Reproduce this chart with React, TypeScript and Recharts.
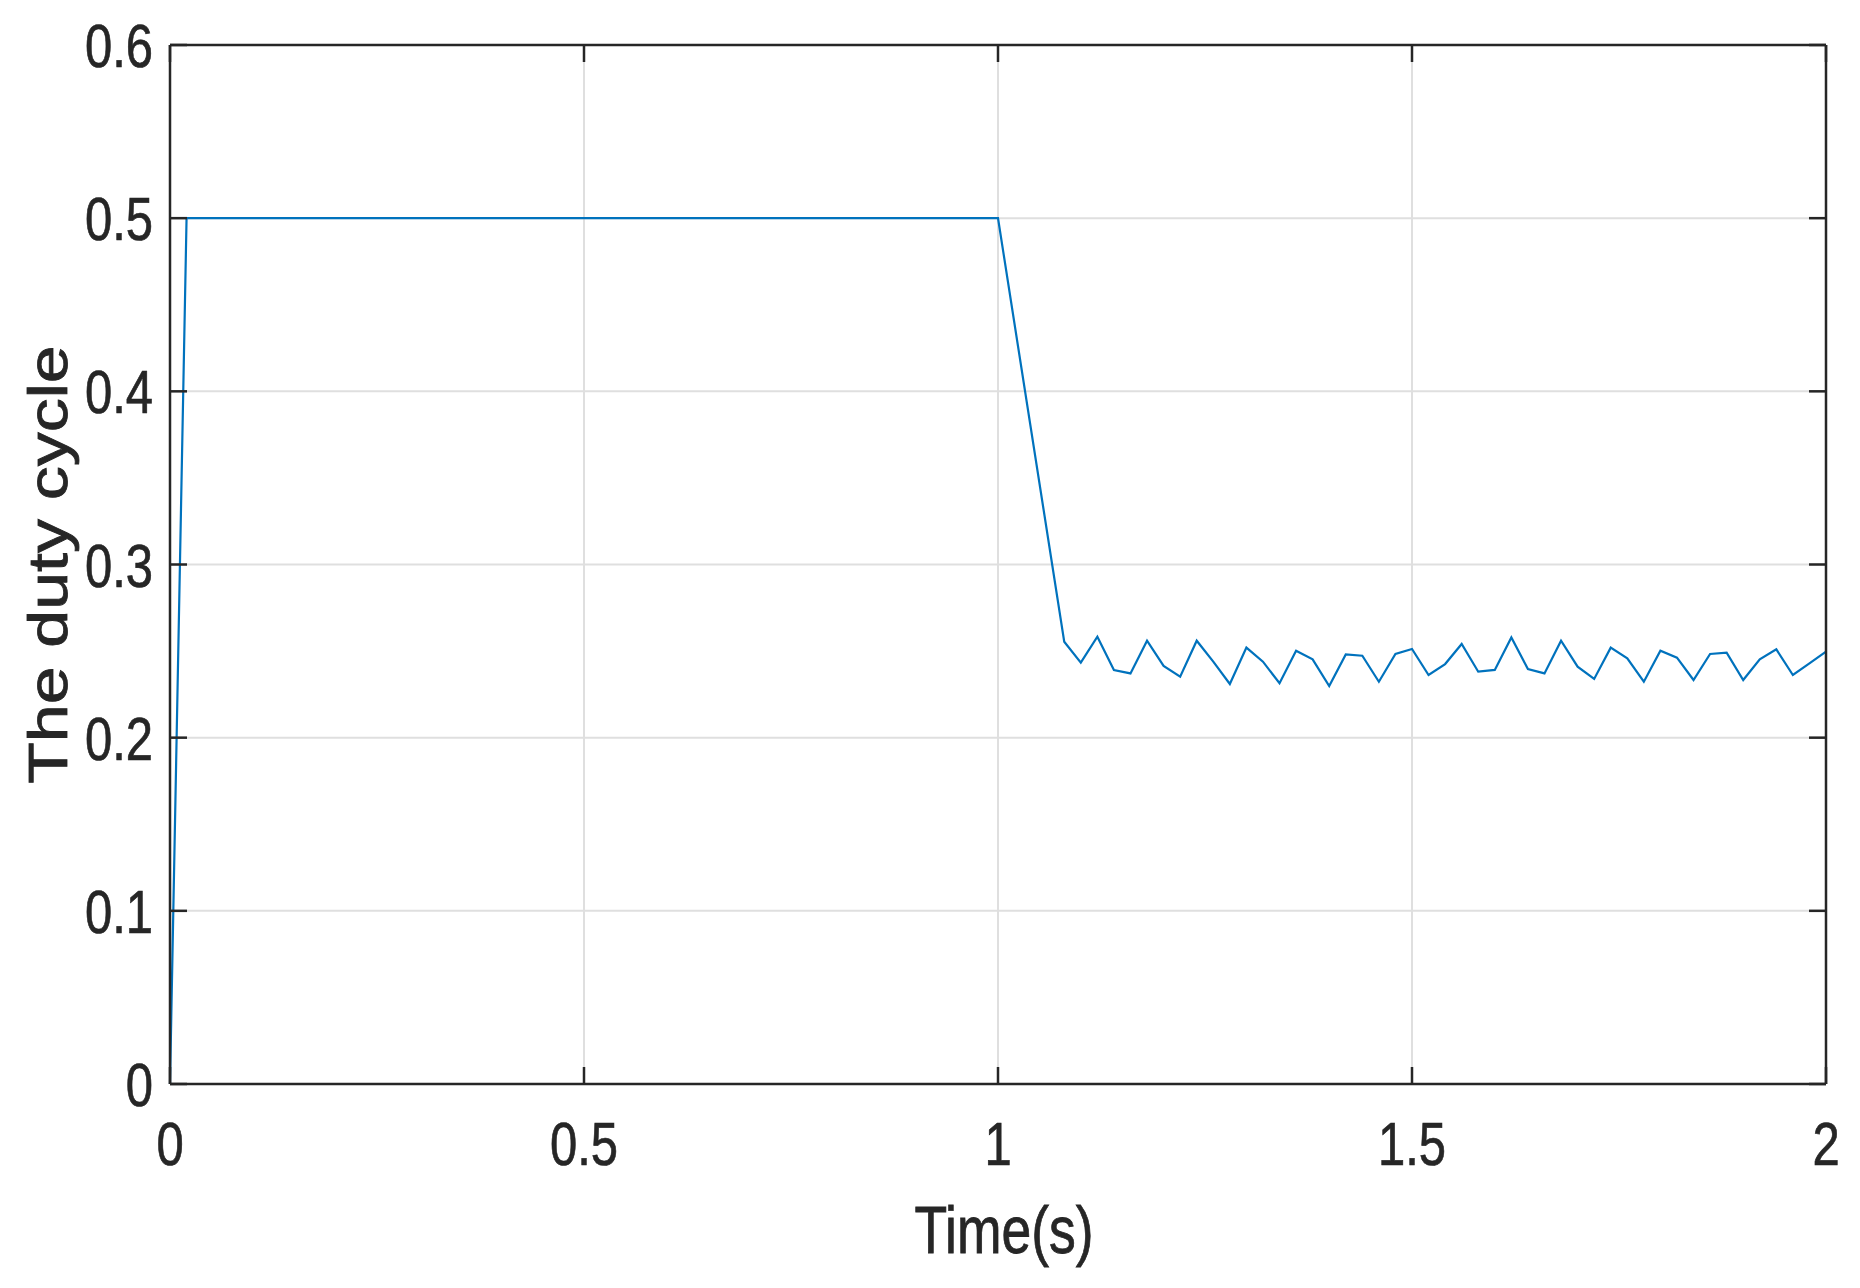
import { LineChart, Line, XAxis, YAxis, CartesianGrid } from 'recharts';

// sample times (s) where the trace bends; straight segments in between
const time = [
  0, 0.02, 1.0, 1.08, 1.1, 1.12, 1.14, 1.16, 1.18, 1.2, 1.22, 1.24, 1.26, 1.28,
  1.3, 1.32, 1.34, 1.36, 1.38, 1.4, 1.42, 1.44, 1.46, 1.48, 1.5, 1.52, 1.54,
  1.56, 1.58, 1.6, 1.62, 1.64, 1.66, 1.68, 1.7, 1.72, 1.74, 1.76, 1.78, 1.8,
  1.82, 1.84, 1.86, 1.88, 1.9, 1.92, 1.94, 1.96, 1.98, 2.0,
];

// duty cycle
const duty = [
  0, 0.5, 0.5, 0.2554, 0.2433, 0.2583, 0.2391, 0.2371, 0.256, 0.2414, 0.2352,
  0.256, 0.2439, 0.231, 0.252, 0.2439, 0.2314, 0.2502, 0.2452, 0.2298, 0.2481,
  0.2473, 0.2323, 0.2483, 0.2512, 0.2362, 0.2425, 0.2541, 0.2381, 0.2391,
  0.2579, 0.2396, 0.2371, 0.256, 0.241, 0.2339, 0.252, 0.2458, 0.2323, 0.2502,
  0.2462, 0.2333, 0.2483, 0.2491, 0.2333, 0.2452, 0.251, 0.2362, 0.2429, 0.2497,
];

const xTicks = [0, 0.5, 1, 1.5, 2];
const xTickLabels = ['0', '0.5', '1', '1.5', '2'];
const yTicks = [0, 0.1, 0.2, 0.3, 0.4, 0.5, 0.6];
const yTickLabels = ['0', '0.1', '0.2', '0.3', '0.4', '0.5', '0.6'];

const data = time.map((t, i) => ({ t, d: duty[i] }));

const INK = '#262626';
const FONT = '"Liberation Sans", Arial, Helvetica, sans-serif';
const SQUEEZE = 0.79; // the original text is horizontally condensed
const TICK_LEN = 17;
const axisStyle = { stroke: INK, strokeWidth: 2.5 };
const tickStyle = { stroke: INK, strokeWidth: 2.5 };

const xLabel = (v: number) => xTickLabels[xTicks.indexOf(v)] ?? String(v);
const yLabel = (v: number) => yTickLabels[yTicks.indexOf(v)] ?? String(v);

// with tickSize = -TICK_LEN and tickMargin = TICK_LEN the given x/y sit on the axis line
const BottomTick = ({ x, y, payload }: any) => (
  <text
    transform={`translate(${x},${y + 81}) scale(${SQUEEZE},1)`}
    textAnchor="middle"
    fontSize={62}
    fontFamily={FONT}
    fill={INK}
    stroke={INK}
    strokeWidth={0.7}
  >
    {xLabel(payload.value)}
  </text>
);

const LeftTick = ({ x, y, payload }: any) => (
  <text
    transform={`translate(${x - 17},${y + 22}) scale(${SQUEEZE},1)`}
    textAnchor="end"
    fontSize={62}
    fontFamily={FONT}
    fill={INK}
    stroke={INK}
    strokeWidth={0.7}
  >
    {yLabel(payload.value)}
  </text>
);

const NoText = () => <g />;

const TimeLabel = ({ viewBox }: any) => (
  <text
    transform={`translate(${viewBox.x + viewBox.width / 2 + 6},${viewBox.y + 169}) scale(${SQUEEZE + 0.02},1)`}
    textAnchor="middle"
    fontSize={66}
    fontFamily={FONT}
    fill={INK}
    stroke={INK}
    strokeWidth={0.8}
  >
    Time(s)
  </text>
);

const DutyLabel = ({ viewBox }: any) => (
  <text
    transform={`translate(${viewBox.x + 67},${viewBox.y + viewBox.height / 2}) scale(0.82,1) rotate(-90)`}
    textAnchor="middle"
    fontSize={68}
    fontFamily={FONT}
    fill={INK}
    stroke={INK}
    strokeWidth={1}
  >
    The duty cycle
  </text>
);

export default function App() {
  return (
    <div style={{ position: 'absolute', left: 0, top: 0, background: '#fff' }}>
      <LineChart
        width={1860}
        height={1288}
        data={data}
        margin={{ top: 44, right: 33, left: 0, bottom: 0 }}
      >
        <CartesianGrid stroke="#dfdfdf" strokeWidth={2} />
        <XAxis
          dataKey="t"
          type="number"
          domain={[0, 2]}
          ticks={xTicks}
          height={204}
          tickSize={-TICK_LEN}
          tickMargin={TICK_LEN}
          tickLine={tickStyle}
          axisLine={axisStyle}
          tick={<BottomTick />}
          label={{ content: <TimeLabel /> }}
          interval={0}
        />
        <XAxis
          xAxisId="top"
          dataKey="t"
          type="number"
          orientation="top"
          domain={[0, 2]}
          ticks={xTicks}
          height={1}
          tickSize={-TICK_LEN}
          tickMargin={TICK_LEN}
          tickLine={tickStyle}
          axisLine={axisStyle}
          tick={<NoText />}
          interval={0}
        />
        <YAxis
          type="number"
          domain={[0, 0.6]}
          ticks={yTicks}
          width={170}
          tickSize={-TICK_LEN}
          tickMargin={TICK_LEN}
          tickLine={tickStyle}
          axisLine={axisStyle}
          tick={<LeftTick />}
          label={{ content: <DutyLabel /> }}
          interval={0}
        />
        <YAxis
          yAxisId="right"
          type="number"
          orientation="right"
          domain={[0, 0.6]}
          ticks={yTicks}
          width={1}
          tickSize={-TICK_LEN}
          tickMargin={TICK_LEN}
          tickLine={tickStyle}
          allowDataOverflow
          axisLine={axisStyle}
          tick={<NoText />}
          interval={0}
        />
        <Line
          type="linear"
          dataKey="d"
          stroke="#0072BD"
          strokeWidth={2.2}
          dot={false}
          isAnimationActive={false}
        />
      </LineChart>
    </div>
  );
}
